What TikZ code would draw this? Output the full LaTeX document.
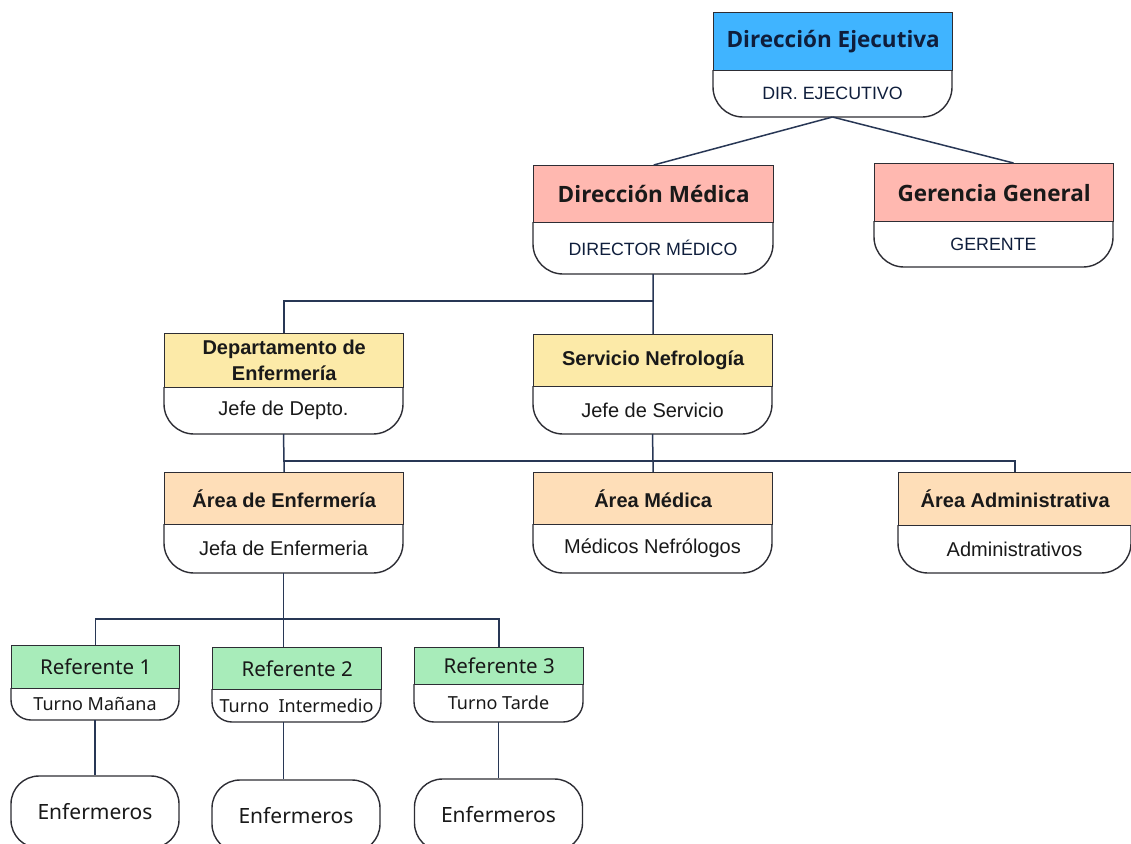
\documentclass[tikz,border=0pt]{standalone}
\usepackage{fontspec}
\usetikzlibrary{calc}
\newfontfamily\nsans{Noto Sans}
\newfontfamily\osans{Open Sans}
\newfontfamily\lsans{Liberation Sans}
\definecolor{deblue}{RGB}{64,180,255}
\definecolor{salmon}{RGB}{255,184,176}
\definecolor{lyellow}{RGB}{252,234,168}
\definecolor{peach}{RGB}{254,222,184}
\definecolor{lgreen}{RGB}{168,236,186}
\definecolor{bordc}{RGB}{45,45,52}
\definecolor{connc}{RGB}{40,55,85}
\definecolor{navy}{RGB}{15,30,60}
\newcommand\fHA{\osans\bfseries\fontsize{22.5}{26}\selectfont}
\newcommand\fSA{\lsans\fontsize{17.8}{20}\selectfont}
\newcommand\fHB{\lsans\bfseries\fontsize{20}{26}\selectfont}
\newcommand\fSB{\lsans\fontsize{20}{23}\selectfont}
\newcommand\fHC{\nsans\fontsize{20.5}{22}\selectfont}
\newcommand\fSC{\nsans\fontsize{18}{21}\selectfont}
\newcommand\fEnf{\nsans\fontsize{21}{24}\selectfont}
\def\boxrad{30pt}
% #1 name #2 left #3 right #4 top #5 mid #6 bottom #7 fill #8 header #9 sub
\newcommand\orgbox[9]{%
  \draw[boxline, rounded corners=\boxrad] (#2,#5) -- (#2,#6) -- (#3,#6) -- (#3,#5);
  \node[hdrbox, fill=#7, minimum width={#3-#2}, minimum height={#5-#4}, anchor=north west] (#1) at (#2,#4) {#8};
  \node[subtext] (#1s) at ({(#2+#3)/2},{(#5+#6)/2}) {#9};
  \coordinate (#1b) at ({(#2+#3)/2},#6);
}
\begin{document}
\begin{tikzpicture}[x=1pt,y=-1pt,
  boxline/.style={draw=bordc, line width=1.4pt},
  hdrbox/.style={draw=bordc, line width=1.4pt, rectangle, inner sep=0pt, align=center, text=black!90},
  subtext/.style={inner sep=0pt, align=center, text=black!90},
  conn/.style={draw=connc, line width=1.5pt},
  enfbox/.style={draw=bordc, line width=1.4pt, rounded corners=28pt, minimum width=168pt, minimum height=72pt, inner sep=0pt, text=black!90}]
\useasboundingbox (0,0) rectangle (1131,843);
\clip (0,0) rectangle (1131,843);
\fill[white] (0,0) rectangle (1131,843);

\def\boxrad{30pt}
\orgbox{de}{713}{952}{12}{70}{117}{deblue}{\textcolor{navy}{\fHA Dirección Ejecutiva}}{\textcolor{navy}{\fSA DIR. EJECUTIVO}}
\orgbox{dm}{533}{773}{165}{222}{274}{salmon}{\fHA Dirección Médica}{\textcolor{navy}{\fSA DIRECTOR MÉDICO}}
\orgbox{gg}{874}{1113}{163}{221}{267}{salmon}{\fHA Gerencia General}{\textcolor{navy}{\fSA GERENTE}}
\orgbox{dep}{164}{403}{333}{387}{434}{lyellow}{\fHB Departamento de\\[6pt]\fHB Enfermería}{\fSB Jefe de Depto.}
\orgbox{sn}{533}{772}{334}{386}{434}{lyellow}{\fHB Servicio Nefrología}{\fSB Jefe de Servicio}
\orgbox{ae}{164}{403}{472}{524}{573}{peach}{\fHB Área de Enfermería}{\fSB Jefa de Enfermeria}
\orgbox{am}{533}{772}{472}{524}{573}{peach}{\fHB Área Médica}{\fSB Médicos Nefrólogos}
\orgbox{aa}{898}{1131}{472}{525}{573}{peach}{\fHB Área Administrativa}{\fSB Administrativos}
\def\boxrad{20pt}
\orgbox{ra}{11}{179}{645}{688}{720}{lgreen}{\fHC Referente 1}{\fSC Turno Mañana}
\orgbox{rb}{212}{381}{647}{689}{722}{lgreen}{\fHC Referente 2}{\fSC Turno\ \ Intermedio}
\orgbox{rc}{414}{583}{647}{684}{722}{lgreen}{\fHC Referente 3}{\fSC Turno Tarde}

\node[enfbox] (e1) at (95,812) {\fEnf Enfermeros};
\node[enfbox] (e2) at (296,816) {\fEnf Enfermeros};
\node[enfbox] (e3) at (498.5,815) {\fEnf Enfermeros};

\coordinate (j1) at (653,301);
\coordinate (j2) at (283,461);
\coordinate (j3) at (283,619);
\draw[conn] (deb) -- (dm.north);
\draw[conn] (deb) -- ($(gg.north west)!0.58!(gg.north east)$);
\draw[conn] (dmb) -- (sn.north);
\draw[conn] (j1) -| (dep.north);
\draw[conn] (depb) -- (ae.north);
\draw[conn] (j2) -| (aa.north);
\draw[conn] (snb) -- (am.north);
\draw[conn] (aeb) -- (aeb |- rb.north);
\draw[conn] (j3) -| (ra.north);
\draw[conn] (j3) -| (rc.north);
\draw[conn] (rab) -- (e1.north);
\draw[conn] (aeb |- rbb) -- (aeb |- e2.north);
\draw[conn] (rcb) -- (e3.north);
\end{tikzpicture}
\end{document}
